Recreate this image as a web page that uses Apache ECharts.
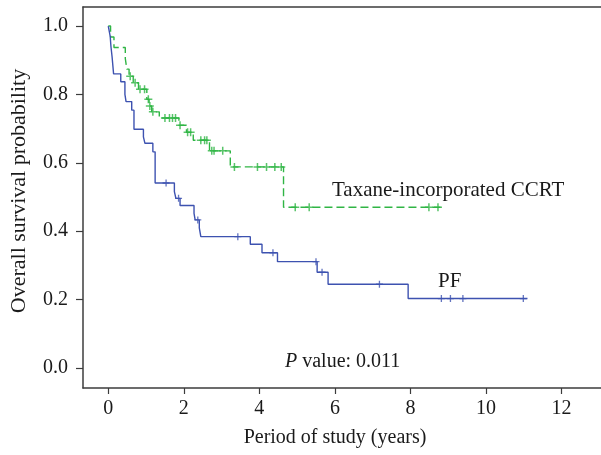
<!DOCTYPE html>
<html>
<head>
<meta charset="utf-8">
<script src="https://cdn.jsdelivr.net/npm/echarts@6/dist/echarts.min.js"></script>
<style>
html,body{margin:0;padding:0;background:#fff;}
#chart{width:601px;height:455px;}
</style>
</head>
<body>
<div id="chart"></div>
<script>
// ---- data ----
const xTicks = [0, 2, 4, 6, 8, 10, 12];
const yTicks = [0, 0.2, 0.4, 0.6, 0.8, 1.0];

// Taxane-incorporated CCRT (green, dashed)
const taxTimes = [0, 0.06, 0.15, 0.45, 0.49, 0.55, 0.66, 0.80, 1.02, 1.08, 1.15, 1.35, 1.87, 2.07, 2.25, 2.68, 3.23, 4.64];
const taxSurv  = [1.0, 0.968, 0.937, 0.905, 0.874, 0.853, 0.834, 0.815, 0.786, 0.766, 0.749, 0.731, 0.710, 0.689, 0.666, 0.635, 0.588, 0.470];
const taxEnd = 8.80;
const taxCensor = [0.58, 0.71, 0.84, 0.96, 1.06, 1.10, 1.18, 1.50, 1.62, 1.70, 1.78, 1.90, 2.10, 2.18, 2.45, 2.55, 2.61, 2.74, 2.80, 3.03, 3.34, 3.95, 4.19, 4.41, 4.58, 4.95, 5.32, 8.49, 8.73];

// PF (blue, solid)
const pfTimes = [0, 0.05, 0.07, 0.10, 0.14, 0.33, 0.44, 0.47, 0.62, 0.68, 0.93, 0.97, 1.18, 1.24, 1.75, 1.79, 1.90, 2.27, 2.30, 2.41, 2.45, 3.76, 4.07, 4.48, 5.53, 5.82, 7.94];
const pfSurv  = [1.0, 0.97, 0.94, 0.91, 0.86, 0.837, 0.80, 0.779, 0.754, 0.698, 0.676, 0.657, 0.632, 0.541, 0.516, 0.496, 0.475, 0.452, 0.433, 0.41, 0.384, 0.362, 0.337, 0.311, 0.280, 0.245, 0.203];
const pfEnd = 11.10;
const pfCensor = [1.53, 1.86, 2.37, 3.43, 4.36, 5.50, 5.66, 7.18, 8.82, 9.06, 9.39, 10.99];

const groupLabels = ['Taxane-incorporated CCRT', 'PF'];
const pValueText = '0.011';

// ---- helpers ----
function stepData(times, surv, end) {
  const d = times.map((t, i) => [t, surv[i]]);
  d.push([end, surv[surv.length - 1]]);
  return d;
}
function survAt(times, surv, t) {
  let s = surv[0];
  for (let i = 0; i < times.length; i++) if (times[i] <= t) s = surv[i];
  return s;
}
function censorData(times, surv, cens) {
  return cens.map(t => [t, survAt(times, surv, t)]);
}

const FONT = 'Liberation Serif';
const AX = '#3c3c3c';
const TXT = '#1a1a1a';
const GREEN = '#30b545';
const BLUE = '#3d52b0';
const PLUS = 'path://M-0.75,-4 L0.75,-4 L0.75,-0.75 L4,-0.75 L4,0.75 L0.75,0.75 L0.75,4 L-0.75,4 L-0.75,0.75 L-4,0.75 L-4,-0.75 L-0.75,-0.75 Z';

const chart = echarts.init(document.getElementById('chart'), null, {renderer: 'canvas'});
chart.setOption({
  animation: false,
  backgroundColor: '#fff',
  grid: {left: 83, top: 7, width: 520, height: 381, containLabel: false, outerBoundsMode: 'none'},
  xAxis: [{
    type: 'value', min: -0.67, max: 13.1,
    axisLine: {show: true, onZero: false, lineStyle: {color: AX, width: 1.5}},
    axisTick: {show: true, length: 6, customValues: xTicks, lineStyle: {color: AX, width: 1.2}},
    axisLabel: {customValues: xTicks, margin: 11, color: TXT, fontFamily: FONT, fontSize: 20},
    splitLine: {show: false}
  }, {
    type: 'value', position: 'top', min: -0.67, max: 13.1,
    axisLine: {show: true, onZero: false, lineStyle: {color: AX, width: 1.5}},
    axisTick: {show: false}, axisLabel: {show: false}, splitLine: {show: false}
  }],
  yAxis: {
    type: 'value', min: -0.0585, max: 1.0556,
    axisLine: {show: true, onZero: false, lineStyle: {color: AX, width: 1.5}},
    axisTick: {show: true, length: 7, customValues: yTicks, lineStyle: {color: AX, width: 1.2}},
    axisLabel: {customValues: yTicks, margin: 15, color: TXT, fontFamily: FONT, fontSize: 20,
      formatter: v => v.toFixed(1)},
    splitLine: {show: false}
  },
  series: [
    {type: 'line', step: 'end', showSymbol: false, data: stepData(taxTimes, taxSurv, taxEnd),
     lineStyle: {color: GREEN, width: 1.4, type: [8, 4]}, z: 2},
    {type: 'line', step: 'end', showSymbol: false, data: stepData(pfTimes, pfSurv, pfEnd),
     lineStyle: {color: BLUE, width: 1.4}, z: 3},
    {type: 'scatter', data: censorData(taxTimes, taxSurv, taxCensor), symbol: PLUS, symbolSize: 8,
     itemStyle: {color: GREEN}, z: 4},
    {type: 'scatter', data: censorData(pfTimes, pfSurv, pfCensor), symbol: PLUS, symbolSize: 7,
     itemStyle: {color: BLUE}, z: 5}
  ],
  graphic: [
    {type: 'text', x: 332, y: 190, style: {text: groupLabels[0], fontFamily: FONT, fontSize: 21, fill: TXT,
      align: 'left', verticalAlign: 'middle'}},
    {type: 'text', x: 438, y: 281, style: {text: groupLabels[1], fontFamily: FONT, fontSize: 21, fill: TXT,
      align: 'left', verticalAlign: 'middle'}},
    {type: 'text', x: 285, y: 362, style: {
      text: '{i|P} value: ' + pValueText, fontFamily: FONT, fontSize: 20, fill: TXT,
      align: 'left', verticalAlign: 'middle',
      rich: {i: {fontFamily: FONT, fontStyle: 'italic', fontSize: 20, fill: TXT}}}},
    {type: 'text', x: 335, y: 438, style: {text: 'Period of study (years)', fontFamily: FONT, fontSize: 20,
      fill: TXT, align: 'center', verticalAlign: 'middle'}},
    {type: 'text', x: 19, y: 191, rotation: Math.PI / 2, style: {text: 'Overall survival probability', fontFamily: FONT,
      fontSize: 22, fill: TXT, align: 'center', verticalAlign: 'middle'}}
  ]
});
</script>
</body>
</html>
